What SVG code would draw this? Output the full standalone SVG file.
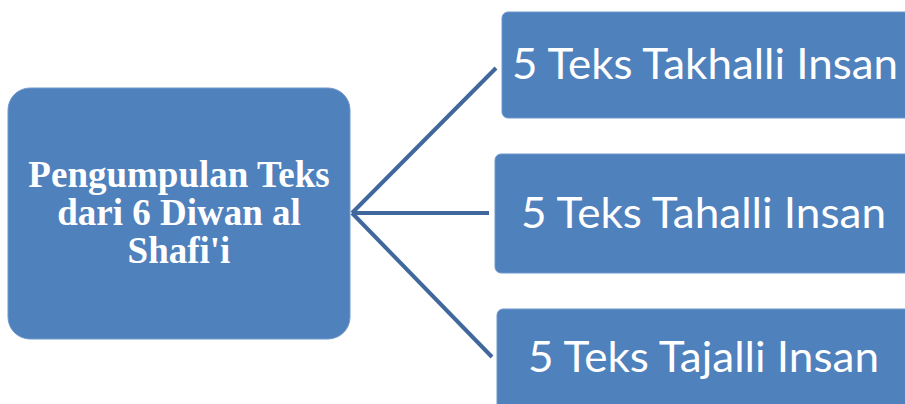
<svg xmlns="http://www.w3.org/2000/svg" width="905" height="404" viewBox="0 0 905 404">
<style>
.box{fill:#4F81BD;stroke:#6F97CB;stroke-width:1}
.conn{stroke:#41689C;stroke-width:4;fill:none;stroke-linecap:butt}
.main{font-family:"Liberation Serif","Times New Roman",serif;font-weight:bold;font-size:37px;fill:#fff;text-anchor:middle}
.leaf{font-family:Lato,"Noto Sans",sans-serif;font-size:42px;fill:#fff}
</style>
<rect width="905" height="404" fill="#fff"/>
<g id="connectors">
<line class="conn" x1="352" y1="213" x2="496" y2="68"/>
<line class="conn" x1="352" y1="213" x2="489" y2="213"/>
<line class="conn" x1="352" y1="213" x2="492" y2="357"/>
</g>
<g id="node-root">
<rect class="box" x="8" y="88" width="342" height="251" rx="22"/>
<text class="main" x="179" y="187">Pengumpulan Teks</text>
<text class="main" x="179" y="225">dari 6 Diwan al</text>
<text class="main" x="179" y="263">Shafi'i</text>
</g>
<g id="node-takhalli">
<rect class="box" x="502" y="12" width="410" height="106" rx="6"/>
<text class="leaf" x="512" y="79" textLength="386" lengthAdjust="spacingAndGlyphs">5 Teks Takhalli Insan</text>
</g>
<g id="node-tahalli">
<rect class="box" x="495" y="154" width="417" height="119" rx="6"/>
<text class="leaf" x="521" y="228" textLength="365" lengthAdjust="spacingAndGlyphs">5 Teks Tahalli Insan</text>
</g>
<g id="node-tajalli">
<rect class="box" x="497" y="309" width="415" height="110" rx="6"/>
<text class="leaf" x="528" y="372" textLength="351" lengthAdjust="spacingAndGlyphs">5 Teks Tajalli Insan</text>
</g>
</svg>
